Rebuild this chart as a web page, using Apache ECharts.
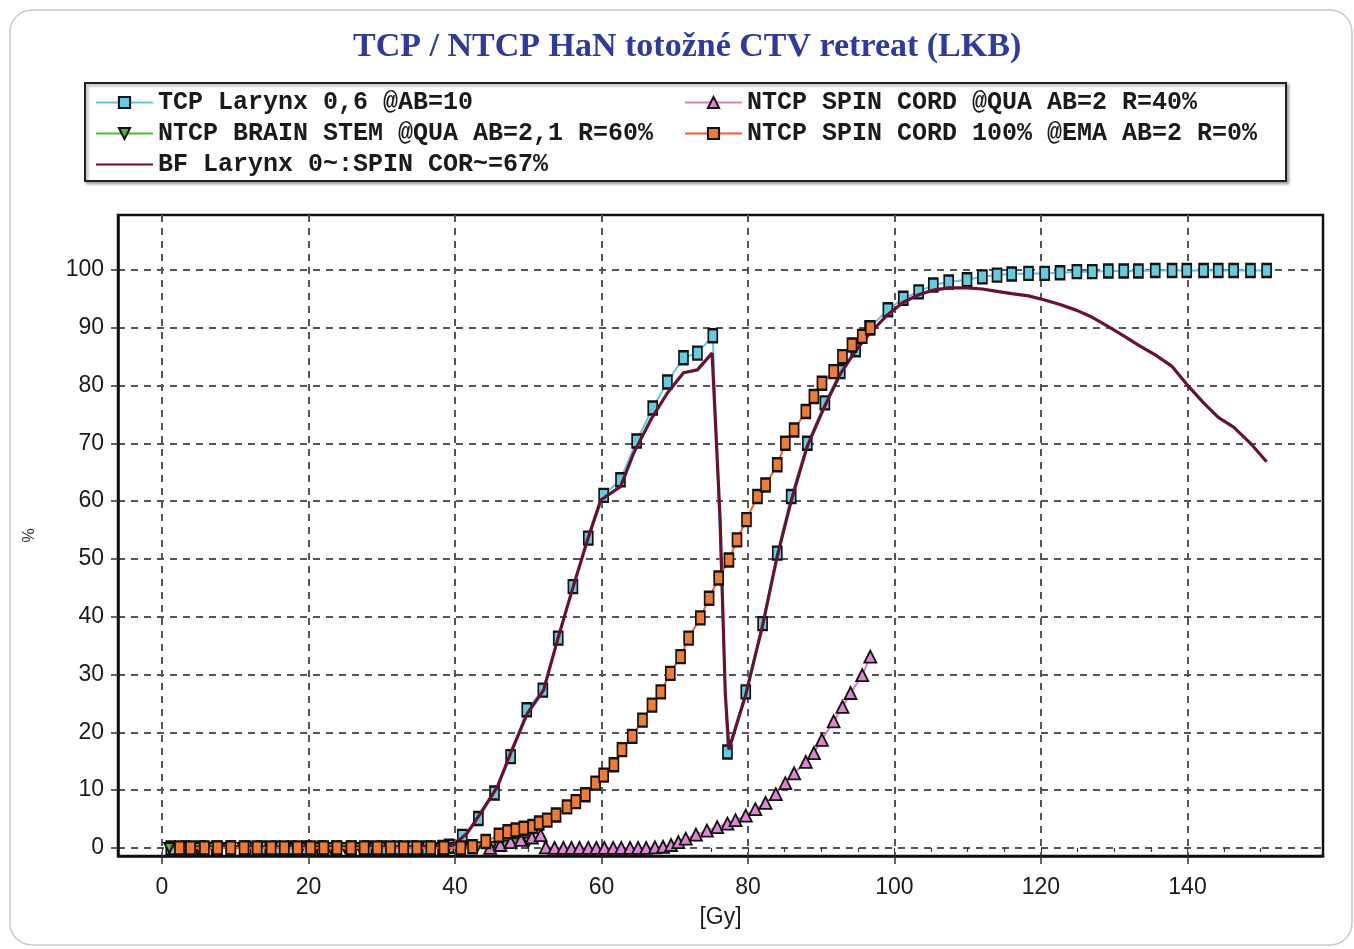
<!DOCTYPE html>
<html>
<head>
<meta charset="utf-8">
<script src="https://cdn.jsdelivr.net/npm/echarts@6/dist/echarts.min.js"></script>
<style>
html,body{margin:0;padding:0;background:#fff;}
#chart{width:1354px;height:949px;}
</style>
</head>
<body>
<div id="chart"></div>
<script>
// ---- data (dose [Gy], probability [%]) ----
const seriesNames = [
  'TCP Larynx 0,6 @AB=10',
  'NTCP BRAIN STEM @QUA AB=2,1 R=60%',
  'BF Larynx 0~:SPIN COR~=67%',
  'NTCP SPIN CORD @QUA AB=2 R=40%',
  'NTCP SPIN CORD 100% @EMA AB=2 R=0%'
];
const xTicks = [0, 20, 40, 60, 80, 100, 120, 140];
const xMinorTicks = [0,5,10,15,20,25,30,35,40,45,50,55,60,65,70,75,80,85,90,95,100,105,110,115,120,125,130,135,140,145,150];
const yTicks = [0, 10, 20, 30, 40, 50, 60, 70, 80, 90, 100];

const tcpData = [
  [1.2,0],[3.2,0],[5.3,0],[7.4,0],[9.4,0],[11.5,0],[13.5,0],[15.6,0],[17.7,0],[19.7,0],
  [21.8,0],[23.8,0],[25.9,0],[28.0,0],[30.0,0],[32.1,0],[34.2,0],[36.2,0],[38.3,0.1],[39.2,0.3],
  [41.0,2.0],[43.2,5.1],[45.4,9.5],[47.6,15.8],[49.8,23.9],[52.0,27.3],[54.1,36.3],[56.1,45.2],
  [58.2,53.6],[60.3,61.0],[62.6,63.7],[64.8,70.4],[67.0,76.1],[69.0,80.6],[71.2,84.8],[73.1,85.6],
  [75.2,88.6],[77.2,16.6],[79.7,27.0],[82.0,38.8],[84.0,51.0],[85.9,60.8],[88.1,70.0],[90.5,77.0],
  [92.6,82.4],[94.7,86.2],[96.6,90.0],[99.1,93.1],[101.2,95.1],[103.3,96.2],[105.3,97.4],[107.4,97.9],
  [109.9,98.3],[112.0,98.8],[114.0,99.1],[116.0,99.3],[118.3,99.4],[120.5,99.4],[122.6,99.5],[124.9,99.7],
  [127.0,99.7],[129.2,99.8],[131.3,99.8],[133.3,99.8],[135.6,99.9],[137.9,99.9],[139.9,99.9],[142.2,99.9],
  [144.2,99.9],[146.3,99.9],[148.6,99.9],[150.8,99.9]
];
const brainStemData = [
  [1.0,0],[3.0,0],[5.0,0],[7.0,0],[9.0,0],[11.0,0],[13.0,0],[15.0,0],[17.0,0],[19.0,0],
  [21.0,0],[23.0,0],[25.0,0],[27.0,0],[29.0,0],[31.0,0],[33.0,0],[35.0,0],[37.0,0],[39.0,0],
  [41.0,0],[43.0,0.1],[45.0,0.2],[46.7,0.4],[48.3,0.8],[50.0,1.0]
];
const bfData = [
  [1.2,0.2],[10.0,0.2],[20.0,0.2],[30.0,0.2],[38.0,0.3],[39.9,0.6],[41.7,2.6],[43.5,6.0],[45.8,10.6],
  [47.6,16.4],[49.9,23.3],[52.1,27.3],[54.0,36.0],[56.0,44.6],[58.1,53.3],[59.9,60.2],[62.6,62.5],
  [64.4,68.3],[66.7,74.0],[69.0,78.7],[71.2,82.2],[73.1,82.7],[75.1,85.6],[75.7,70.0],[76.2,56.7],
  [76.9,26.8],[77.4,17.0],[79.7,26.5],[82.0,38.5],[84.0,50.5],[86.0,60.5],[88.1,69.5],[90.5,76.5],
  [92.6,82.0],[94.7,86.0],[96.6,89.0],[99.1,92.3],[101.2,94.4],[103.3,95.7],[105.3,96.5],[107.4,96.9],
  [109.9,96.9],[112.0,96.7],[114.0,96.3],[116.0,95.9],[118.3,95.5],[120.5,94.8],[122.6,94.0],[124.9,93.0],
  [127.0,91.8],[129.2,90.2],[131.3,88.6],[133.3,87.0],[135.6,85.3],[137.9,83.3],[139.9,80.2],[142.2,77.0],
  [144.2,74.5],[146.3,72.8],[148.6,70.0],[150.8,66.8]
];
const spinQuaData = [
  [44.8,0],[46.2,0.5],[47.6,1.0],[49.0,1.4],[50.5,1.8],[51.7,2.2],[52.4,0.1],[53.6,0],[54.8,0],[55.9,0],
  [57.0,0],[58.2,0],[59.3,0],[60.4,0],[61.6,0],[62.7,0],[63.9,0],[65.0,0],[66.1,0],[67.3,0.1],
  [68.4,0.2],[69.5,0.5],[70.5,1.0],[71.5,1.6],[72.9,2.3],[74.4,3.0],[75.8,3.6],[77.2,4.2],[78.3,4.8],
  [79.7,5.6],[81.0,6.7],[82.4,7.8],[83.8,9.3],[85.1,11.2],[86.3,12.9],[87.9,14.9],[89.0,16.4],[90.1,18.7],
  [91.7,21.9],[92.9,24.4],[94.0,26.8],[95.6,29.9],[96.7,33.1]
];
const spinEmaData = [
  [2.4,0],[3.9,0],[5.8,0],[7.6,0],[9.4,0],[11.2,0],[13.0,0],[14.9,0],[16.7,0],[18.5,0],
  [20.3,0],[22.1,0],[23.9,0],[25.8,0],[27.6,0],[29.4,0],[31.2,0],[33.0,0],[34.8,0],[36.7,0],
  [38.5,0],[40.8,0],[42.4,0.2],[44.2,1.1],[46.0,2.2],[47.2,2.8],[48.3,3.1],[49.4,3.4],[50.6,3.7],
  [51.5,4.3],[52.6,4.8],[53.8,5.7],[55.3,7.1],[56.5,8.0],[57.8,9.2],[59.2,11.2],[60.3,12.6],[61.7,14.4],
  [62.8,17.0],[64.2,19.3],[65.6,22.1],[66.9,24.7],[68.1,27.0],[69.4,30.2],[70.8,33.1],[71.9,36.3],
  [73.5,39.8],[74.7,43.2],[76.0,46.7],[77.4,49.8],[78.5,53.3],[79.8,56.8],[81.3,60.8],[82.4,62.8],
  [84.0,66.3],[85.1,70.0],[86.3,72.3],[87.9,75.5],[89.0,78.1],[90.1,80.4],[91.7,82.4],[92.9,85.0],
  [94.2,87.0],[95.6,88.5],[96.7,90.0]
];

// ---- chart ----
const chart = echarts.init(document.getElementById('chart'), null, {renderer: 'canvas'});
const legendText = {fontFamily: 'Liberation Mono', fontWeight: 'bold', fontSize: 25, color: '#1a1a1a', lineHeight: 25};
const gridLine = {show: true, lineStyle: {color: '#555', width: 2, type: [7, 6]}};
const tickFont = {fontFamily: 'Liberation Sans', fontSize: 23, color: '#1a1a1a'};

const option = {
  backgroundColor: '#ffffff',
  animation: false,
  title: {
    text: 'TCP / NTCP HaN totožné CTV retreat (LKB)',
    left: 353,
    top: 30,
    padding: 0,
    textStyle: {fontFamily: 'Liberation Serif', fontWeight: 'bold', fontSize: 34, color: '#2d3b9c'}
  },
  graphic: [
    {type: 'rect', shape: {x: 10, y: 10, width: 1342, height: 935, r: 22},
     style: {fill: 'none', stroke: '#c9c9c9', lineWidth: 1.5}, silent: true, z: -10},
    {type: 'rect', shape: {x: 85, y: 83, width: 1201, height: 98},
     style: {fill: '#fff', stroke: '#222', lineWidth: 2, shadowColor: 'rgba(0,0,0,0.35)', shadowBlur: 3, shadowOffsetX: 2, shadowOffsetY: 2},
     silent: true, z: -5}
  ],
  legend: [
    {left: 95, top: 90, orient: 'vertical', padding: 0, itemGap: 6, itemWidth: 57, itemHeight: 14,
     data: [seriesNames[0], seriesNames[1], {name: seriesNames[2], itemStyle: {opacity: 0}}],
     textStyle: legendText, selectedMode: false},
    {left: 684, top: 90, orient: 'vertical', padding: 0, itemGap: 6, itemWidth: 57, itemHeight: 14,
     data: [seriesNames[3], seriesNames[4]], textStyle: legendText, selectedMode: false}
  ],
  grid: {left: 118, right: 31, top: 215, bottom: 93, show: true, borderColor: '#111', borderWidth: 2.5, containLabel: false},
  xAxis: [{
    type: 'value', min: -6, max: 158.5,
    name: '[Gy]', nameLocation: 'middle', nameGap: 50,
    nameTextStyle: {fontFamily: 'Liberation Sans', fontSize: 23, color: '#1a1a1a'},
    axisLine: {show: true, onZero: false, lineStyle: {color: '#111', width: 2.5}},
    axisTick: {show: true, inside: false, length: 8, customValues: xTicks, lineStyle: {color: '#333', width: 1.5}},
    axisLabel: {show: true, margin: 20, customValues: xTicks, ...tickFont},
    splitLine: gridLine
  }, {
    type: 'value', min: -6, max: 158.5, position: 'bottom', gridIndex: 0,
    axisLine: {show: false},
    axisTick: {show: true, inside: false, length: 4, customValues: xMinorTicks, lineStyle: {color: '#333', width: 1.2}},
    axisLabel: {show: false},
    splitLine: {show: false}
  }],
  yAxis: {
    type: 'value', min: -1.4, max: 109.5,
    name: '%', nameLocation: 'middle', nameGap: 80, nameRotate: 90,
    nameTextStyle: {fontFamily: 'Liberation Sans', fontSize: 16, color: '#333'},
    axisLine: {show: true, onZero: false, lineStyle: {color: '#111', width: 2.5}},
    axisTick: {show: true, inside: false, length: 7, customValues: yTicks, lineStyle: {color: '#333', width: 1.5}},
    axisLabel: {show: true, margin: 14, customValues: yTicks, ...tickFont},
    splitLine: gridLine
  },
  series: [
    {name: seriesNames[0], type: 'line', data: tcpData, symbol: 'rect', symbolSize: [9, 13],
     lineStyle: {color: '#5ec6dc', width: 2}, itemStyle: {color: '#66cbe0', borderColor: '#111', borderWidth: 2}, z: 2},
    {name: seriesNames[1], type: 'line', data: brainStemData, symbol: 'triangle', symbolRotate: 180, symbolSize: 10,
     lineStyle: {color: '#4cbb36', width: 2}, itemStyle: {color: '#4cbb36', borderColor: '#111', borderWidth: 2}, z: 3},
    {name: seriesNames[3], type: 'line', data: spinQuaData, symbol: 'triangle', symbolSize: 12,
     lineStyle: {color: '#d77ccb', width: 2}, itemStyle: {color: '#e184d6', borderColor: '#111', borderWidth: 1.8}, z: 3},
    {name: seriesNames[2], type: 'line', data: bfData, symbol: 'none',
     lineStyle: {color: '#6a1132', width: 3.2}, itemStyle: {color: '#6a1132'}, z: 4},
    {name: seriesNames[4], type: 'line', data: spinEmaData, symbol: 'rect', symbolSize: [9, 13],
     lineStyle: {color: '#ff5a26', width: 2}, itemStyle: {color: '#f07b35', borderColor: '#111', borderWidth: 2}, z: 5}
  ]
};
chart.setOption(option);
</script>
</body>
</html>
